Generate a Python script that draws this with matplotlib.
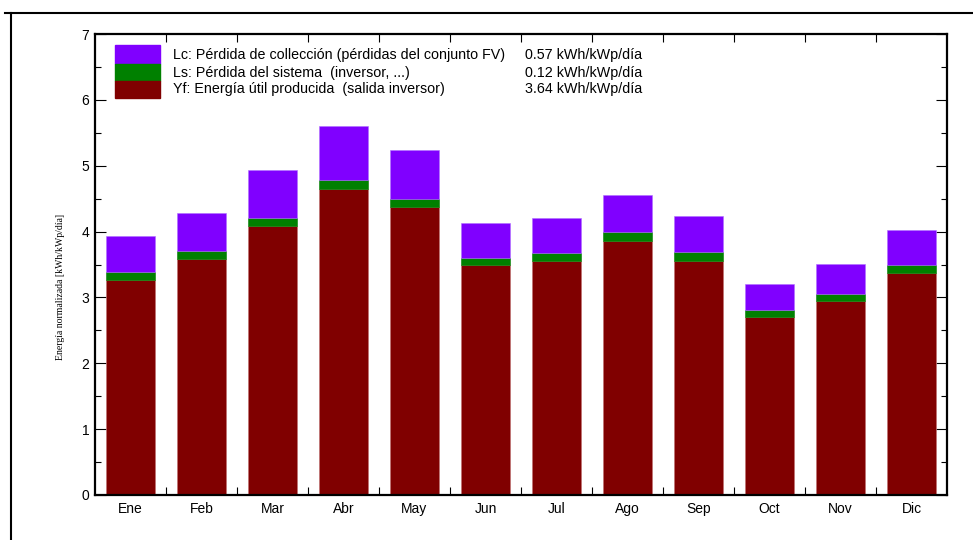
import numpy as np
import matplotlib.pyplot as plt
from matplotlib.patches import Rectangle
from matplotlib.lines import Line2D
from matplotlib.ticker import MultipleLocator, FixedLocator

months = ['Ene', 'Feb', 'Mar', 'Abr', 'May', 'Jun', 'Jul', 'Ago', 'Sep', 'Oct', 'Nov', 'Dic']
yf = [3.27, 3.59, 4.09, 4.65, 4.37, 3.49, 3.56, 3.86, 3.56, 2.71, 2.94, 3.37]
ls = [0.11, 0.11, 0.12, 0.14, 0.13, 0.11, 0.11, 0.13, 0.13, 0.10, 0.11, 0.12]
lc = [0.55, 0.58, 0.73, 0.81, 0.74, 0.53, 0.54, 0.56, 0.55, 0.40, 0.46, 0.53]

legend_labels = ['Lc: Pérdida de collección (pérdidas del conjunto FV)',
                 'Ls: Pérdida del sistema  (inversor, ...)',
                 'Yf: Energía útil producida  (salida inversor)']
legend_values = ['0.57 kWh/kWp/día', '0.12 kWh/kWp/día', '3.64 kWh/kWp/día']

c_lc = '#8000ff'
c_ls = '#008000'
c_yf = '#800000'

plt.rcParams['font.family'] = ['Liberation Sans', 'DejaVu Sans']

fig = plt.figure(figsize=(9.73, 5.40), dpi=100)
ax = fig.add_axes([95 / 973, 45 / 540, 852 / 973, 461 / 540])

x = np.arange(len(months))
w = 0.7
yf_a = np.array(yf)
ls_a = np.array(ls)
lc_a = np.array(lc)
ax.bar(x, yf_a, w, color=c_yf, edgecolor='#c07070', linewidth=0.4, zorder=2)
ax.bar(x, ls_a, w, bottom=yf_a, color=c_ls, edgecolor=c_ls, linewidth=0.4, zorder=2)
ax.bar(x, lc_a, w, bottom=yf_a + ls_a, color=c_lc, edgecolor='#b070ff', linewidth=0.4, zorder=2)

ax.set_xlim(-0.5, len(months) - 0.5)
ax.set_ylim(0, 7)
ax.set_xticks(x)
ax.set_xticklabels(months, fontsize=10)
ax.xaxis.set_minor_locator(FixedLocator(np.arange(0.5, len(months) - 0.5, 1)))
ax.tick_params(axis='x', which='major', length=0, pad=5)
ax.tick_params(axis='x', which='minor', direction='in', length=6, width=0.8, top=True, bottom=True)
ax.yaxis.set_major_locator(MultipleLocator(1))
ax.yaxis.set_minor_locator(MultipleLocator(0.5))
ax.tick_params(axis='y', which='major', direction='in', length=8, width=0.8, left=True, right=True, labelsize=10, pad=4)
ax.tick_params(axis='y', which='minor', direction='in', length=4, width=0.8, left=True, right=True)
for sp in ax.spines.values():
    sp.set_linewidth(1.6)

ax.set_ylabel('Energía normalizada [kWh/kWp/día]', family=['Liberation Serif', 'DejaVu Serif'], fontsize=7)
ax.yaxis.set_label_coords(-30 / 852, (495 - 287) / 461)

# legend block
cols = [c_lc, c_ls, c_yf]
box_x0, box_w = 115, 45
row_tops = [45, 64, 81]
row_h = [19, 17, 17]
for i in range(3):
    y0 = 540 - row_tops[i] - row_h[i]
    fig.patches.append(Rectangle((box_x0 / 973, y0 / 540), box_w / 973, row_h[i] / 540,
                                 transform=fig.transFigure, color=cols[i], zorder=5))
    yc = 540 - (row_tops[i] + row_h[i] / 2)
    fig.text(173 / 973, yc / 540, legend_labels[i], fontsize=10.3, va='center', ha='left')
    fig.text(642 / 973, yc / 540, legend_values[i], fontsize=10.3, va='center', ha='right')

# outer frame
fig.add_artist(Line2D([5 / 973, 1], [1 - 13 / 540, 1 - 13 / 540], color='k', linewidth=1.5, transform=fig.transFigure))
fig.add_artist(Line2D([11 / 973, 11 / 973], [0, 1 - 13 / 540], color='k', linewidth=1.5, transform=fig.transFigure))

fig.savefig('out.png', dpi=100)
